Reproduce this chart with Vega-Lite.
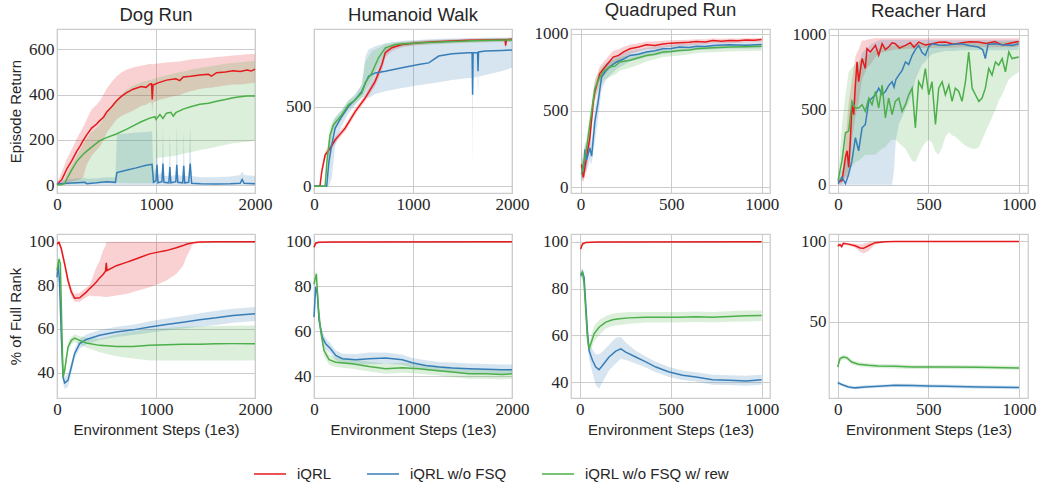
{
"$schema": "https://vega.github.io/schema/vega-lite/v6.json",
"padding": {"left": 7, "top": 0, "right": 0, "bottom": 0},
"config": {
  "font": "Liberation Sans",
  "view": {"stroke": "#cccccc", "strokeWidth": 1.25},
  "axis": {"domain": false, "ticks": false, "grid": true, "gridColor": "#cccccc", "gridWidth": 1, "labelFont": "Liberation Serif", "labelFontSize": 17, "labelColor": "#262626", "labelPadding": 3, "labelFlush": false, "labelOverlap": false, "format": "d", "titleFont": "Liberation Sans", "titleFontSize": 15, "titleFontWeight": "normal", "titleColor": "#262626", "titlePadding": 5},
  "title": {"font": "Liberation Sans", "fontSize": 18.5, "fontWeight": "normal", "color": "#262626", "offset": 5},
  "range": {"category": ["#e41a1c", "#377eb8", "#4daf4a"]},
  "legend": {"orient": "none", "legendX": 196, "legendY": 428, "direction": "horizontal", "symbolType": "stroke", "symbolSize": 1024, "symbolStrokeWidth": 1.5, "symbolOpacity": 1, "labelFont": "Liberation Sans", "labelFontSize": 15, "labelColor": "#262626", "columnPadding": 32, "labelOffset": 10, "title": null},
  "line": {"strokeWidth": 1.5}
},
"datasets": {
"dr_r": [
{"s":"a","x":0,"y":3,"l":0,"h":8},{"s":"a","x":50,"y":25,"l":5,"h":60},{"s":"a","x":100,"y":72,"l":10,"h":115},{"s":"a","x":150,"y":108,"l":15,"h":160},{"s":"a","x":200,"y":150,"l":20,"h":205},{"s":"a","x":230,"y":170,"l":25,"h":230},{"s":"a","x":263,"y":196,"l":35,"h":255},{"s":"a","x":300,"y":222,"l":90,"h":290},{"s":"a","x":350,"y":252,"l":130,"h":335},{"s":"a","x":400,"y":270,"l":155,"h":355},{"s":"a","x":432,"y":285,"l":170,"h":372},{"s":"a","x":470,"y":300,"l":200,"h":400},{"s":"a","x":500,"y":322,"l":230,"h":425},{"s":"a","x":550,"y":345,"l":260,"h":455},{"s":"a","x":600,"y":372,"l":290,"h":480},{"s":"a","x":650,"y":392,"l":305,"h":498},{"s":"a","x":700,"y":408,"l":315,"h":510},{"s":"a","x":769,"y":424,"l":330,"h":520},{"s":"a","x":850,"y":436,"l":350,"h":528},{"s":"a","x":900,"y":432,"l":355,"h":532},{"s":"a","x":937,"y":446,"l":365,"h":535},{"s":"a","x":955,"y":448,"l":365,"h":535},{"s":"a","x":962,"y":378,"l":320,"h":532},{"s":"a","x":970,"y":442,"l":365,"h":535},{"s":"a","x":1020,"y":452,"l":375,"h":538},{"s":"a","x":1106,"y":464,"l":385,"h":542},{"s":"a","x":1200,"y":470,"l":395,"h":545},{"s":"a","x":1240,"y":462,"l":398,"h":546},{"s":"a","x":1275,"y":478,"l":405,"h":550},{"s":"a","x":1350,"y":481,"l":415,"h":555},{"s":"a","x":1443,"y":487,"l":425,"h":558},{"s":"a","x":1530,"y":490,"l":430,"h":562},{"s":"a","x":1560,"y":482,"l":430,"h":563},{"s":"a","x":1612,"y":497,"l":435,"h":566},{"s":"a","x":1700,"y":500,"l":440,"h":570},{"s":"a","x":1780,"y":505,"l":445,"h":573},{"s":"a","x":1850,"y":502,"l":445,"h":575},{"s":"a","x":1920,"y":509,"l":448,"h":578},{"s":"a","x":1960,"y":504,"l":450,"h":579},{"s":"a","x":2000,"y":512,"l":452,"h":580},
{"s":"b","x":0,"y":5,"l":0,"h":20},{"s":"b","x":100,"y":8,"l":0,"h":25},{"s":"b","x":200,"y":10,"l":0,"h":30},{"s":"b","x":280,"y":12,"l":0,"h":32},{"s":"b","x":300,"y":6,"l":0,"h":28},{"s":"b","x":400,"y":10,"l":0,"h":30},{"s":"b","x":500,"y":15,"l":0,"h":35},{"s":"b","x":590,"y":12,"l":0,"h":35},{"s":"b","x":605,"y":55,"l":0,"h":225},{"s":"b","x":700,"y":66,"l":0,"h":228},{"s":"b","x":800,"y":76,"l":0,"h":232},{"s":"b","x":900,"y":88,"l":0,"h":235},{"s":"b","x":960,"y":92,"l":0,"h":238},{"s":"b","x":975,"y":12,"l":0,"h":40},{"s":"b","x":1000,"y":20,"l":0,"h":80},{"s":"b","x":1010,"y":90,"l":0,"h":250},{"s":"b","x":1020,"y":10,"l":0,"h":40},{"s":"b","x":1060,"y":15,"l":0,"h":60},{"s":"b","x":1070,"y":95,"l":0,"h":260},{"s":"b","x":1080,"y":12,"l":0,"h":40},{"s":"b","x":1130,"y":10,"l":0,"h":40},{"s":"b","x":1140,"y":80,"l":0,"h":230},{"s":"b","x":1150,"y":10,"l":0,"h":40},{"s":"b","x":1200,"y":15,"l":0,"h":45},{"s":"b","x":1210,"y":90,"l":0,"h":270},{"s":"b","x":1220,"y":12,"l":0,"h":45},{"s":"b","x":1270,"y":10,"l":0,"h":40},{"s":"b","x":1280,"y":85,"l":0,"h":240},{"s":"b","x":1290,"y":10,"l":0,"h":40},{"s":"b","x":1330,"y":12,"l":0,"h":40},{"s":"b","x":1345,"y":95,"l":0,"h":260},{"s":"b","x":1360,"y":8,"l":0,"h":40},{"s":"b","x":1450,"y":6,"l":0,"h":35},{"s":"b","x":1600,"y":5,"l":0,"h":35},{"s":"b","x":1750,"y":6,"l":0,"h":38},{"s":"b","x":1850,"y":8,"l":0,"h":45},{"s":"b","x":1870,"y":25,"l":0,"h":60},{"s":"b","x":1890,"y":8,"l":0,"h":45},{"s":"b","x":2000,"y":6,"l":0,"h":40},
{"s":"c","x":0,"y":0,"l":0,"h":2},{"s":"c","x":50,"y":2,"l":0,"h":8},{"s":"c","x":80,"y":8,"l":0,"h":25},{"s":"c","x":100,"y":28,"l":2,"h":50},{"s":"c","x":150,"y":68,"l":5,"h":90},{"s":"c","x":200,"y":105,"l":5,"h":130},{"s":"c","x":263,"y":135,"l":8,"h":180},{"s":"c","x":300,"y":150,"l":8,"h":205},{"s":"c","x":350,"y":168,"l":10,"h":235},{"s":"c","x":432,"y":196,"l":10,"h":265},{"s":"c","x":500,"y":210,"l":10,"h":320},{"s":"c","x":600,"y":226,"l":10,"h":380},{"s":"c","x":700,"y":246,"l":8,"h":420},{"s":"c","x":769,"y":262,"l":8,"h":440},{"s":"c","x":850,"y":280,"l":8,"h":455},{"s":"c","x":937,"y":296,"l":8,"h":465},{"s":"c","x":990,"y":302,"l":10,"h":470},{"s":"c","x":1000,"y":290,"l":120,"h":472},{"s":"c","x":1040,"y":312,"l":122,"h":478},{"s":"c","x":1070,"y":295,"l":123,"h":480},{"s":"c","x":1106,"y":318,"l":125,"h":485},{"s":"c","x":1150,"y":322,"l":128,"h":490},{"s":"c","x":1175,"y":305,"l":129,"h":492},{"s":"c","x":1200,"y":320,"l":130,"h":495},{"s":"c","x":1275,"y":336,"l":138,"h":502},{"s":"c","x":1350,"y":346,"l":145,"h":510},{"s":"c","x":1443,"y":357,"l":155,"h":518},{"s":"c","x":1530,"y":362,"l":162,"h":524},{"s":"c","x":1612,"y":371,"l":170,"h":530},{"s":"c","x":1700,"y":378,"l":178,"h":536},{"s":"c","x":1780,"y":386,"l":185,"h":540},{"s":"c","x":1850,"y":390,"l":188,"h":543},{"s":"c","x":1920,"y":394,"l":192,"h":546},{"s":"c","x":2000,"y":394,"l":195,"h":548}
],
"hw_r": [
{"s":"a","x":0,"y":0,"l":0,"h":2},{"s":"a","x":60,"y":0,"l":0,"h":5},{"s":"a","x":78,"y":91,"l":60,"h":120},{"s":"a","x":112,"y":196,"l":170,"h":220},{"s":"a","x":162,"y":238,"l":215,"h":262},{"s":"a","x":213,"y":291,"l":270,"h":312},{"s":"a","x":260,"y":325,"l":305,"h":345},{"s":"a","x":314,"y":365,"l":345,"h":385},{"s":"a","x":416,"y":470,"l":450,"h":490},{"s":"a","x":517,"y":555,"l":535,"h":575},{"s":"a","x":618,"y":660,"l":630,"h":690},{"s":"a","x":686,"y":766,"l":730,"h":800},{"s":"a","x":720,"y":840,"l":810,"h":865},{"s":"a","x":787,"y":871,"l":850,"h":890},{"s":"a","x":889,"y":892,"l":875,"h":905},{"s":"a","x":1057,"y":903,"l":890,"h":915},{"s":"a","x":1226,"y":909,"l":897,"h":920},{"s":"a","x":1395,"y":913,"l":902,"h":924},{"s":"a","x":1564,"y":918,"l":906,"h":928},{"s":"a","x":1733,"y":920,"l":908,"h":930},{"s":"a","x":1900,"y":922,"l":910,"h":932},{"s":"a","x":1930,"y":922,"l":910,"h":932},{"s":"a","x":1935,"y":885,"l":860,"h":932},{"s":"a","x":1945,"y":922,"l":910,"h":932},{"s":"a","x":2000,"y":924,"l":912,"h":934},
{"s":"b","x":0,"y":0,"l":0,"h":2},{"s":"b","x":128,"y":0,"l":0,"h":10},{"s":"b","x":150,"y":150,"l":0,"h":260},{"s":"b","x":179,"y":259,"l":50,"h":380},{"s":"b","x":213,"y":365,"l":250,"h":430},{"s":"b","x":280,"y":439,"l":380,"h":480},{"s":"b","x":348,"y":502,"l":460,"h":540},{"s":"b","x":416,"y":544,"l":510,"h":580},{"s":"b","x":483,"y":597,"l":560,"h":640},{"s":"b","x":520,"y":650,"l":560,"h":820},{"s":"b","x":551,"y":692,"l":555,"h":860},{"s":"b","x":618,"y":713,"l":580,"h":880},{"s":"b","x":720,"y":724,"l":597,"h":900},{"s":"b","x":889,"y":745,"l":618,"h":915},{"s":"b","x":1057,"y":766,"l":635,"h":920},{"s":"b","x":1159,"y":776,"l":645,"h":925},{"s":"b","x":1260,"y":819,"l":655,"h":928},{"s":"b","x":1395,"y":833,"l":668,"h":930},{"s":"b","x":1560,"y":840,"l":681,"h":932},{"s":"b","x":1597,"y":840,"l":681,"h":932},{"s":"b","x":1602,"y":576,"l":122,"h":933},{"s":"b","x":1607,"y":840,"l":681,"h":933},{"s":"b","x":1652,"y":840,"l":690,"h":933},{"s":"b","x":1657,"y":724,"l":560,"h":933},{"s":"b","x":1662,"y":845,"l":690,"h":933},{"s":"b","x":1733,"y":850,"l":700,"h":934},{"s":"b","x":1902,"y":854,"l":725,"h":935},{"s":"b","x":2000,"y":857,"l":745,"h":936},
{"s":"c","x":0,"y":0,"l":0,"h":2},{"s":"c","x":112,"y":0,"l":0,"h":5},{"s":"c","x":130,"y":150,"l":60,"h":220},{"s":"c","x":162,"y":323,"l":250,"h":370},{"s":"c","x":196,"y":386,"l":350,"h":420},{"s":"c","x":280,"y":449,"l":420,"h":480},{"s":"c","x":348,"y":513,"l":485,"h":540},{"s":"c","x":416,"y":544,"l":520,"h":570},{"s":"c","x":483,"y":586,"l":555,"h":640},{"s":"c","x":517,"y":650,"l":600,"h":780},{"s":"c","x":584,"y":713,"l":660,"h":850},{"s":"c","x":652,"y":808,"l":760,"h":870},{"s":"c","x":720,"y":871,"l":840,"h":895},{"s":"c","x":821,"y":892,"l":875,"h":905},{"s":"c","x":990,"y":899,"l":885,"h":912},{"s":"c","x":1200,"y":905,"l":892,"h":918},{"s":"c","x":1400,"y":910,"l":898,"h":922},{"s":"c","x":1600,"y":915,"l":903,"h":926},{"s":"c","x":1800,"y":918,"l":906,"h":929},{"s":"c","x":2000,"y":920,"l":908,"h":931}
],
"qr_r": [
{"s":"a","x":5,"y":150,"l":80,"h":290},{"s":"a","x":15,"y":65,"l":30,"h":120},{"s":"a","x":33,"y":194,"l":120,"h":260},{"s":"a","x":51,"y":323,"l":250,"h":400},{"s":"a","x":70,"y":559,"l":480,"h":620},{"s":"a","x":79,"y":624,"l":560,"h":690},{"s":"a","x":106,"y":742,"l":690,"h":790},{"s":"a","x":125,"y":770,"l":720,"h":815},{"s":"a","x":143,"y":796,"l":750,"h":840},{"s":"a","x":180,"y":849,"l":800,"h":890},{"s":"a","x":210,"y":860,"l":815,"h":900},{"s":"a","x":235,"y":882,"l":840,"h":915},{"s":"a","x":272,"y":903,"l":870,"h":930},{"s":"a","x":320,"y":915,"l":885,"h":940},{"s":"a","x":363,"y":929,"l":900,"h":950},{"s":"a","x":410,"y":925,"l":900,"h":950},{"s":"a","x":455,"y":935,"l":910,"h":955},{"s":"a","x":500,"y":940,"l":915,"h":958},{"s":"a","x":547,"y":942,"l":920,"h":960},{"s":"a","x":600,"y":945,"l":925,"h":962},{"s":"a","x":639,"y":950,"l":930,"h":965},{"s":"a","x":690,"y":948,"l":932,"h":966},{"s":"a","x":730,"y":957,"l":940,"h":970},{"s":"a","x":780,"y":952,"l":938,"h":968},{"s":"a","x":822,"y":957,"l":940,"h":970},{"s":"a","x":870,"y":955,"l":942,"h":970},{"s":"a","x":914,"y":961,"l":945,"h":972},{"s":"a","x":960,"y":958,"l":945,"h":972},{"s":"a","x":1000,"y":963,"l":948,"h":975},
{"s":"b","x":5,"y":86,"l":40,"h":150},{"s":"b","x":20,"y":150,"l":60,"h":260},{"s":"b","x":24,"y":247,"l":100,"h":300},{"s":"b","x":33,"y":180,"l":100,"h":260},{"s":"b","x":51,"y":258,"l":180,"h":330},{"s":"b","x":61,"y":204,"l":150,"h":300},{"s":"b","x":79,"y":430,"l":300,"h":520},{"s":"b","x":97,"y":559,"l":450,"h":640},{"s":"b","x":116,"y":720,"l":640,"h":770},{"s":"b","x":140,"y":760,"l":700,"h":810},{"s":"b","x":161,"y":785,"l":730,"h":830},{"s":"b","x":198,"y":817,"l":770,"h":860},{"s":"b","x":235,"y":835,"l":795,"h":875},{"s":"b","x":272,"y":860,"l":820,"h":890},{"s":"b","x":320,"y":868,"l":835,"h":900},{"s":"b","x":363,"y":882,"l":850,"h":910},{"s":"b","x":410,"y":890,"l":860,"h":918},{"s":"b","x":455,"y":903,"l":870,"h":925},{"s":"b","x":500,"y":905,"l":875,"h":930},{"s":"b","x":547,"y":914,"l":885,"h":935},{"s":"b","x":600,"y":912,"l":890,"h":938},{"s":"b","x":639,"y":920,"l":895,"h":940},{"s":"b","x":690,"y":918,"l":897,"h":942},{"s":"b","x":730,"y":925,"l":900,"h":945},{"s":"b","x":822,"y":929,"l":905,"h":948},{"s":"b","x":914,"y":926,"l":905,"h":949},{"s":"b","x":1000,"y":931,"l":905,"h":950},
{"s":"c","x":5,"y":86,"l":40,"h":150},{"s":"c","x":33,"y":258,"l":180,"h":320},{"s":"c","x":61,"y":495,"l":400,"h":560},{"s":"c","x":79,"y":645,"l":580,"h":700},{"s":"c","x":106,"y":720,"l":660,"h":770},{"s":"c","x":130,"y":760,"l":700,"h":800},{"s":"c","x":161,"y":785,"l":720,"h":820},{"s":"c","x":190,"y":790,"l":735,"h":835},{"s":"c","x":217,"y":817,"l":760,"h":850},{"s":"c","x":272,"y":828,"l":780,"h":860},{"s":"c","x":320,"y":845,"l":800,"h":875},{"s":"c","x":363,"y":860,"l":820,"h":885},{"s":"c","x":410,"y":868,"l":835,"h":892},{"s":"c","x":455,"y":882,"l":850,"h":900},{"s":"c","x":500,"y":885,"l":855,"h":905},{"s":"c","x":547,"y":892,"l":860,"h":910},{"s":"c","x":600,"y":895,"l":868,"h":915},{"s":"c","x":639,"y":903,"l":875,"h":920},{"s":"c","x":730,"y":910,"l":880,"h":925},{"s":"c","x":822,"y":914,"l":885,"h":930},{"s":"c","x":914,"y":916,"l":888,"h":932},{"s":"c","x":1000,"y":920,"l":890,"h":935}
],
"rh_r": [
{"s":"a","x":0,"y":18,"l":0,"h":40},{"s":"a","x":22,"y":28,"l":0,"h":60},{"s":"a","x":41,"y":182,"l":50,"h":300},{"s":"a","x":50,"y":226,"l":50,"h":420},{"s":"a","x":59,"y":116,"l":50,"h":550},{"s":"a","x":68,"y":292,"l":150,"h":620},{"s":"a","x":77,"y":533,"l":300,"h":700},{"s":"a","x":87,"y":467,"l":380,"h":780},{"s":"a","x":96,"y":664,"l":450,"h":850},{"s":"a","x":105,"y":818,"l":500,"h":880},{"s":"a","x":114,"y":686,"l":550,"h":900},{"s":"a","x":133,"y":840,"l":700,"h":960},{"s":"a","x":151,"y":774,"l":750,"h":960},{"s":"a","x":160,"y":906,"l":780,"h":965},{"s":"a","x":179,"y":884,"l":800,"h":970},{"s":"a","x":207,"y":928,"l":850,"h":975},{"s":"a","x":225,"y":862,"l":870,"h":975},{"s":"a","x":244,"y":939,"l":880,"h":975},{"s":"a","x":262,"y":900,"l":885,"h":975},{"s":"a","x":280,"y":917,"l":890,"h":975},{"s":"a","x":299,"y":945,"l":895,"h":975},{"s":"a","x":317,"y":939,"l":900,"h":975},{"s":"a","x":340,"y":910,"l":900,"h":975},{"s":"a","x":373,"y":928,"l":905,"h":975},{"s":"a","x":400,"y":945,"l":905,"h":975},{"s":"a","x":420,"y":915,"l":905,"h":975},{"s":"a","x":446,"y":950,"l":910,"h":975},{"s":"a","x":483,"y":930,"l":910,"h":975},{"s":"a","x":520,"y":939,"l":910,"h":975},{"s":"a","x":557,"y":948,"l":912,"h":975},{"s":"a","x":594,"y":950,"l":912,"h":975},{"s":"a","x":640,"y":935,"l":912,"h":975},{"s":"a","x":686,"y":945,"l":915,"h":975},{"s":"a","x":730,"y":952,"l":915,"h":975},{"s":"a","x":775,"y":950,"l":915,"h":975},{"s":"a","x":820,"y":940,"l":915,"h":975},{"s":"a","x":867,"y":954,"l":915,"h":975},{"s":"a","x":910,"y":930,"l":915,"h":975},{"s":"a","x":963,"y":945,"l":915,"h":975},{"s":"a","x":1000,"y":954,"l":920,"h":975},
{"s":"b","x":0,"y":7,"l":0,"h":50},{"s":"b","x":22,"y":50,"l":0,"h":100},{"s":"b","x":41,"y":7,"l":0,"h":150},{"s":"b","x":59,"y":72,"l":0,"h":250},{"s":"b","x":77,"y":160,"l":0,"h":500},{"s":"b","x":96,"y":314,"l":0,"h":700},{"s":"b","x":114,"y":226,"l":0,"h":800},{"s":"b","x":133,"y":379,"l":0,"h":880},{"s":"b","x":151,"y":401,"l":0,"h":900},{"s":"b","x":170,"y":555,"l":0,"h":920},{"s":"b","x":188,"y":577,"l":0,"h":940},{"s":"b","x":207,"y":599,"l":0,"h":950},{"s":"b","x":225,"y":643,"l":0,"h":960},{"s":"b","x":244,"y":600,"l":0,"h":965},{"s":"b","x":262,"y":621,"l":0,"h":965},{"s":"b","x":280,"y":660,"l":0,"h":965},{"s":"b","x":299,"y":686,"l":0,"h":965},{"s":"b","x":310,"y":650,"l":100,"h":965},{"s":"b","x":320,"y":700,"l":300,"h":965},{"s":"b","x":336,"y":730,"l":400,"h":965},{"s":"b","x":354,"y":760,"l":450,"h":965},{"s":"b","x":373,"y":818,"l":500,"h":965},{"s":"b","x":391,"y":800,"l":550,"h":965},{"s":"b","x":410,"y":862,"l":600,"h":965},{"s":"b","x":428,"y":900,"l":700,"h":965},{"s":"b","x":446,"y":928,"l":750,"h":965},{"s":"b","x":465,"y":880,"l":800,"h":965},{"s":"b","x":483,"y":862,"l":820,"h":965},{"s":"b","x":502,"y":920,"l":850,"h":965},{"s":"b","x":520,"y":939,"l":870,"h":965},{"s":"b","x":557,"y":930,"l":880,"h":965},{"s":"b","x":594,"y":928,"l":890,"h":965},{"s":"b","x":640,"y":935,"l":890,"h":965},{"s":"b","x":686,"y":939,"l":895,"h":965},{"s":"b","x":730,"y":925,"l":895,"h":965},{"s":"b","x":775,"y":917,"l":895,"h":965},{"s":"b","x":800,"y":900,"l":895,"h":965},{"s":"b","x":815,"y":840,"l":850,"h":965},{"s":"b","x":830,"y":935,"l":895,"h":965},{"s":"b","x":867,"y":939,"l":895,"h":965},{"s":"b","x":910,"y":932,"l":895,"h":965},{"s":"b","x":963,"y":928,"l":895,"h":965},{"s":"b","x":1000,"y":939,"l":900,"h":965},
{"s":"c","x":0,"y":28,"l":0,"h":50},{"s":"c","x":22,"y":160,"l":20,"h":400},{"s":"c","x":41,"y":346,"l":50,"h":600},{"s":"c","x":59,"y":357,"l":100,"h":750},{"s":"c","x":77,"y":555,"l":120,"h":780},{"s":"c","x":96,"y":511,"l":150,"h":800},{"s":"c","x":114,"y":511,"l":160,"h":820},{"s":"c","x":133,"y":533,"l":180,"h":840},{"s":"c","x":151,"y":489,"l":200,"h":850},{"s":"c","x":170,"y":577,"l":200,"h":870},{"s":"c","x":188,"y":533,"l":200,"h":880},{"s":"c","x":207,"y":621,"l":200,"h":900},{"s":"c","x":225,"y":511,"l":220,"h":910},{"s":"c","x":244,"y":664,"l":240,"h":915},{"s":"c","x":262,"y":445,"l":250,"h":920},{"s":"c","x":280,"y":577,"l":280,"h":920},{"s":"c","x":299,"y":467,"l":300,"h":925},{"s":"c","x":317,"y":555,"l":300,"h":925},{"s":"c","x":336,"y":577,"l":280,"h":930},{"s":"c","x":354,"y":489,"l":260,"h":930},{"s":"c","x":373,"y":533,"l":240,"h":930},{"s":"c","x":391,"y":599,"l":200,"h":930},{"s":"c","x":410,"y":643,"l":160,"h":935},{"s":"c","x":428,"y":379,"l":150,"h":935},{"s":"c","x":446,"y":686,"l":200,"h":935},{"s":"c","x":465,"y":643,"l":250,"h":935},{"s":"c","x":483,"y":774,"l":280,"h":940},{"s":"c","x":502,"y":599,"l":300,"h":940},{"s":"c","x":520,"y":686,"l":280,"h":940},{"s":"c","x":539,"y":401,"l":220,"h":940},{"s":"c","x":557,"y":643,"l":200,"h":940},{"s":"c","x":576,"y":686,"l":250,"h":940},{"s":"c","x":594,"y":599,"l":320,"h":940},{"s":"c","x":613,"y":664,"l":350,"h":940},{"s":"c","x":631,"y":555,"l":330,"h":945},{"s":"c","x":649,"y":643,"l":320,"h":945},{"s":"c","x":668,"y":621,"l":300,"h":945},{"s":"c","x":686,"y":555,"l":280,"h":945},{"s":"c","x":705,"y":686,"l":260,"h":945},{"s":"c","x":723,"y":884,"l":250,"h":950},{"s":"c","x":742,"y":643,"l":240,"h":950},{"s":"c","x":760,"y":599,"l":240,"h":950},{"s":"c","x":779,"y":555,"l":250,"h":950},{"s":"c","x":797,"y":577,"l":300,"h":950},{"s":"c","x":815,"y":643,"l":350,"h":950},{"s":"c","x":834,"y":774,"l":400,"h":950},{"s":"c","x":852,"y":730,"l":450,"h":950},{"s":"c","x":871,"y":818,"l":500,"h":955},{"s":"c","x":889,"y":796,"l":560,"h":955},{"s":"c","x":908,"y":840,"l":600,"h":955},{"s":"c","x":926,"y":752,"l":650,"h":955},{"s":"c","x":945,"y":884,"l":700,"h":955},{"s":"c","x":963,"y":840,"l":720,"h":955},{"s":"c","x":1000,"y":851,"l":750,"h":955}
],
"dr_k": [
{"s":"a","x":0,"y":99,"l":98,"h":100},{"s":"a","x":20,"y":99.7,"l":99,"h":100},{"s":"a","x":44,"y":96.6,"l":95,"h":98.5},{"s":"a","x":77,"y":89.8,"l":88,"h":92},{"s":"a","x":111,"y":82.2,"l":80,"h":84.5},{"s":"a","x":145,"y":76.9,"l":75,"h":79},{"s":"a","x":178,"y":74.1,"l":72.5,"h":76},{"s":"a","x":229,"y":74.3,"l":72.5,"h":76.5},{"s":"a","x":296,"y":76.9,"l":74.5,"h":79},{"s":"a","x":330,"y":78.5,"l":75.3,"h":80},{"s":"a","x":364,"y":79.9,"l":75,"h":84},{"s":"a","x":397,"y":81.5,"l":75,"h":88.3},{"s":"a","x":431,"y":83.4,"l":75,"h":91.3},{"s":"a","x":465,"y":85,"l":74.8,"h":95.9},{"s":"a","x":490,"y":86.5,"l":74.6,"h":98},{"s":"a","x":498,"y":90.3,"l":74.6,"h":99.7},{"s":"a","x":505,"y":86.8,"l":74.6,"h":99.8},{"s":"a","x":600,"y":89,"l":75.3,"h":100},{"s":"a","x":700,"y":90.5,"l":76,"h":100},{"s":"a","x":768,"y":91.6,"l":76.9,"h":100},{"s":"a","x":850,"y":93,"l":78,"h":100},{"s":"a","x":936,"y":94.4,"l":79.1,"h":100},{"s":"a","x":1020,"y":95.2,"l":80.5,"h":100},{"s":"a","x":1104,"y":95.9,"l":82.2,"h":100},{"s":"a","x":1205,"y":97.2,"l":85.2,"h":100},{"s":"a","x":1273,"y":98.2,"l":89,"h":100},{"s":"a","x":1306,"y":98.8,"l":92.8,"h":100},{"s":"a","x":1374,"y":99.5,"l":98.9,"h":100},{"s":"a","x":1441,"y":99.8,"l":99.5,"h":100},{"s":"a","x":1600,"y":100,"l":99.9,"h":100},{"s":"a","x":2000,"y":100,"l":100,"h":100},
{"s":"b","x":0,"y":83.7,"l":81,"h":86},{"s":"b","x":13,"y":89.8,"l":87,"h":92},{"s":"b","x":27,"y":80,"l":77,"h":83},{"s":"b","x":44,"y":56,"l":53,"h":59},{"s":"b","x":61,"y":38,"l":35,"h":41},{"s":"b","x":77,"y":35.3,"l":32.5,"h":38},{"s":"b","x":111,"y":36.5,"l":33.5,"h":39.5},{"s":"b","x":145,"y":42.6,"l":40,"h":45},{"s":"b","x":178,"y":48.7,"l":46.5,"h":51},{"s":"b","x":229,"y":53.3,"l":51,"h":55.5},{"s":"b","x":296,"y":55.2,"l":53,"h":57.5},{"s":"b","x":431,"y":57.1,"l":55,"h":59.5},{"s":"b","x":600,"y":58.6,"l":56.3,"h":61},{"s":"b","x":768,"y":59.6,"l":57.2,"h":62},{"s":"b","x":936,"y":60.9,"l":58.3,"h":63.5},{"s":"b","x":1104,"y":62.1,"l":59.3,"h":64.8},{"s":"b","x":1273,"y":63.1,"l":60.2,"h":66},{"s":"b","x":1441,"y":64.2,"l":61,"h":67.2},{"s":"b","x":1609,"y":65.1,"l":61.8,"h":68.3},{"s":"b","x":1778,"y":66.2,"l":62.9,"h":69.3},{"s":"b","x":2000,"y":67,"l":63.7,"h":70.1},
{"s":"c","x":0,"y":86.8,"l":84,"h":89},{"s":"c","x":20,"y":92,"l":90,"h":93.5},{"s":"c","x":34,"y":89.8,"l":87,"h":92},{"s":"c","x":47,"y":63.9,"l":60,"h":67},{"s":"c","x":61,"y":38,"l":36,"h":40},{"s":"c","x":77,"y":41,"l":38.5,"h":43.5},{"s":"c","x":111,"y":51.7,"l":49.5,"h":54},{"s":"c","x":145,"y":54.8,"l":53,"h":56.5},{"s":"c","x":178,"y":55.8,"l":54,"h":57.5},{"s":"c","x":229,"y":54.8,"l":53,"h":56.8},{"s":"c","x":296,"y":53.6,"l":51.5,"h":56},{"s":"c","x":431,"y":52.5,"l":49.4,"h":55.5},{"s":"c","x":600,"y":52,"l":47.5,"h":57.5},{"s":"c","x":768,"y":52,"l":46.5,"h":59},{"s":"c","x":936,"y":52.5,"l":45.6,"h":60},{"s":"c","x":1104,"y":52.8,"l":45.6,"h":60.5},{"s":"c","x":1273,"y":53,"l":45.6,"h":61},{"s":"c","x":1441,"y":53,"l":45.6,"h":61.2},{"s":"c","x":1609,"y":53.2,"l":45.6,"h":61.4},{"s":"c","x":1778,"y":53.3,"l":45.6,"h":61.5},{"s":"c","x":2000,"y":53.3,"l":45.6,"h":61.6}
],
"hw_k": [
{"s":"a","x":0,"y":97.5,"l":96.5,"h":98.5},{"s":"a","x":17,"y":99.3,"l":98.8,"h":99.8},{"s":"a","x":50,"y":99.7,"l":99.4,"h":100},{"s":"a","x":200,"y":99.8,"l":99.6,"h":100},{"s":"a","x":2000,"y":99.9,"l":99.8,"h":100},
{"s":"b","x":0,"y":66.3,"l":64,"h":68.5},{"s":"b","x":17,"y":79.7,"l":77.5,"h":82},{"s":"b","x":34,"y":76.7,"l":74.5,"h":79},{"s":"b","x":51,"y":64.8,"l":62.5,"h":67},{"s":"b","x":84,"y":57.4,"l":55,"h":60},{"s":"b","x":118,"y":54.4,"l":52,"h":57},{"s":"b","x":168,"y":52.2,"l":50,"h":54.5},{"s":"b","x":219,"y":49.2,"l":47,"h":51.5},{"s":"b","x":286,"y":47.7,"l":45.5,"h":50},{"s":"b","x":421,"y":47.3,"l":45,"h":49.8},{"s":"b","x":556,"y":47.7,"l":45.3,"h":50.5},{"s":"b","x":724,"y":48,"l":45.5,"h":50.5},{"s":"b","x":892,"y":47.3,"l":45,"h":49.5},{"s":"b","x":993,"y":45.9,"l":43.8,"h":48},{"s":"b","x":1128,"y":44.7,"l":42.7,"h":47},{"s":"b","x":1263,"y":44,"l":42,"h":46.3},{"s":"b","x":1397,"y":43.6,"l":41.6,"h":46},{"s":"b","x":1566,"y":43.3,"l":41.3,"h":45.6},{"s":"b","x":1734,"y":43,"l":41,"h":45.4},{"s":"b","x":1902,"y":42.8,"l":40.8,"h":45.2},{"s":"b","x":2000,"y":42.8,"l":40.8,"h":45.2},
{"s":"c","x":0,"y":81.1,"l":79,"h":83},{"s":"c","x":24,"y":85.6,"l":83.5,"h":87.5},{"s":"c","x":44,"y":70.7,"l":68.5,"h":73},{"s":"c","x":67,"y":60.3,"l":58,"h":62.5},{"s":"c","x":101,"y":51.4,"l":49,"h":54},{"s":"c","x":152,"y":47.3,"l":45,"h":49.5},{"s":"c","x":219,"y":46.2,"l":44,"h":48.5},{"s":"c","x":387,"y":45.5,"l":43.3,"h":47.7},{"s":"c","x":556,"y":44.3,"l":42,"h":46.5},{"s":"c","x":724,"y":43.3,"l":41,"h":45.5},{"s":"c","x":892,"y":43.7,"l":41.5,"h":46},{"s":"c","x":1061,"y":43.3,"l":41,"h":45.5},{"s":"c","x":1229,"y":42.5,"l":40.3,"h":44.7},{"s":"c","x":1397,"y":41.8,"l":39.6,"h":44},{"s":"c","x":1566,"y":41,"l":38.8,"h":43.2},{"s":"c","x":1734,"y":41,"l":38.8,"h":43.2},{"s":"c","x":1902,"y":40.7,"l":38.5,"h":43},{"s":"c","x":2000,"y":41,"l":38.8,"h":43.2}
],
"qr_k": [
{"s":"a","x":5,"y":96.9,"l":95.5,"h":98.3},{"s":"a","x":15,"y":99,"l":98.3,"h":99.7},{"s":"a","x":33,"y":99.7,"l":99.3,"h":100},{"s":"a","x":100,"y":99.9,"l":99.7,"h":100},{"s":"a","x":1000,"y":100,"l":99.9,"h":100},
{"s":"b","x":5,"y":85.5,"l":84,"h":87},{"s":"b","x":15,"y":87,"l":85.5,"h":88.5},{"s":"b","x":24,"y":84.8,"l":83,"h":86.5},{"s":"b","x":33,"y":73.5,"l":71,"h":76},{"s":"b","x":42,"y":62.1,"l":59,"h":65},{"s":"b","x":51,"y":53.6,"l":50,"h":57},{"s":"b","x":70,"y":49.4,"l":44,"h":54},{"s":"b","x":88,"y":46.5,"l":39,"h":52},{"s":"b","x":106,"y":45.4,"l":37.3,"h":52},{"s":"b","x":125,"y":47.2,"l":40,"h":53},{"s":"b","x":161,"y":50.8,"l":45,"h":56},{"s":"b","x":198,"y":53.3,"l":48,"h":59},{"s":"b","x":226,"y":54.3,"l":50,"h":59.3},{"s":"b","x":253,"y":52.9,"l":49.5,"h":57},{"s":"b","x":308,"y":50.8,"l":48,"h":53.5},{"s":"b","x":363,"y":48.7,"l":46.3,"h":51},{"s":"b","x":418,"y":46.5,"l":44.3,"h":48.8},{"s":"b","x":492,"y":44.4,"l":42.3,"h":46.5},{"s":"b","x":565,"y":43,"l":41,"h":45},{"s":"b","x":639,"y":42.3,"l":40.3,"h":44.3},{"s":"b","x":730,"y":41.1,"l":39,"h":43.2},{"s":"b","x":822,"y":40.9,"l":38.8,"h":43},{"s":"b","x":914,"y":40.6,"l":38.5,"h":42.8},{"s":"b","x":1000,"y":41.1,"l":39,"h":43.2},
{"s":"c","x":5,"y":86.2,"l":84.5,"h":88},{"s":"c","x":15,"y":87,"l":85.5,"h":88.5},{"s":"c","x":24,"y":82,"l":80,"h":84},{"s":"c","x":33,"y":70.6,"l":68,"h":73},{"s":"c","x":42,"y":59.3,"l":56.5,"h":62},{"s":"c","x":51,"y":54.3,"l":52,"h":57},{"s":"c","x":61,"y":56.5,"l":53.5,"h":59.5},{"s":"c","x":79,"y":60.7,"l":57.5,"h":64},{"s":"c","x":106,"y":63.5,"l":60,"h":66.5},{"s":"c","x":143,"y":65.7,"l":63,"h":68.3},{"s":"c","x":180,"y":66.7,"l":64,"h":69.3},{"s":"c","x":217,"y":67.1,"l":64.5,"h":69.7},{"s":"c","x":272,"y":67.5,"l":65,"h":70},{"s":"c","x":363,"y":67.8,"l":65.5,"h":70},{"s":"c","x":455,"y":67.8,"l":65.5,"h":70},{"s":"c","x":547,"y":67.8,"l":65.5,"h":70},{"s":"c","x":639,"y":68,"l":65.7,"h":70.2},{"s":"c","x":730,"y":67.8,"l":65.5,"h":70},{"s":"c","x":822,"y":68.1,"l":65.8,"h":70.3},{"s":"c","x":914,"y":68.4,"l":66,"h":70.6},{"s":"c","x":1000,"y":68.5,"l":66.2,"h":70.7}
],
"rh_k": [
{"s":"a","x":0,"y":97.3,"l":96.5,"h":98.5},{"s":"a","x":13,"y":97.9,"l":97,"h":99},{"s":"a","x":22,"y":96.7,"l":96,"h":98},{"s":"a","x":31,"y":98.8,"l":98,"h":99.5},{"s":"a","x":59,"y":98.3,"l":97.5,"h":99},{"s":"a","x":96,"y":97.3,"l":96,"h":98.5},{"s":"a","x":124,"y":95.9,"l":93.5,"h":98},{"s":"a","x":142,"y":95.7,"l":92.5,"h":98.5},{"s":"a","x":170,"y":97.3,"l":94,"h":99.5},{"s":"a","x":207,"y":99.2,"l":98,"h":100},{"s":"a","x":262,"y":99.8,"l":99.5,"h":100},{"s":"a","x":317,"y":100,"l":99.9,"h":100},{"s":"a","x":1000,"y":100,"l":100,"h":100},
{"s":"b","x":0,"y":12.2,"l":11,"h":13.4},{"s":"b","x":22,"y":11,"l":10,"h":12},{"s":"b","x":59,"y":9.5,"l":8.6,"h":10.5},{"s":"b","x":96,"y":8.9,"l":8,"h":9.9},{"s":"b","x":151,"y":9.5,"l":8.5,"h":10.5},{"s":"b","x":225,"y":9.9,"l":8.9,"h":10.9},{"s":"b","x":317,"y":10.5,"l":9.5,"h":11.5},{"s":"b","x":410,"y":10.3,"l":9.2,"h":11.4},{"s":"b","x":502,"y":10.1,"l":9,"h":11.2},{"s":"b","x":594,"y":9.9,"l":8.8,"h":11},{"s":"b","x":779,"y":9.5,"l":8.4,"h":10.6},{"s":"b","x":1000,"y":9.1,"l":8,"h":10.2},
{"s":"c","x":0,"y":21.9,"l":20.5,"h":23.5},{"s":"c","x":13,"y":27.1,"l":25.5,"h":28.5},{"s":"c","x":31,"y":28.1,"l":26.5,"h":29.5},{"s":"c","x":50,"y":27.7,"l":26.3,"h":29},{"s":"c","x":77,"y":25,"l":23.6,"h":26.4},{"s":"c","x":114,"y":23.6,"l":22.3,"h":25},{"s":"c","x":170,"y":22.9,"l":21.6,"h":24.2},{"s":"c","x":225,"y":22.5,"l":21.2,"h":23.8},{"s":"c","x":317,"y":22.3,"l":21,"h":23.6},{"s":"c","x":410,"y":21.9,"l":20.7,"h":23.2},{"s":"c","x":502,"y":21.9,"l":20.7,"h":23.2},{"s":"c","x":594,"y":21.9,"l":20.7,"h":23.2},{"s":"c","x":779,"y":21.7,"l":20.5,"h":23},{"s":"c","x":1000,"y":21.3,"l":20.1,"h":22.6}
]
},
"columns": 4,
"spacing": {"row": 41, "column": 59},
"bounds": "flush",
"concat": [
{"width":198,"height":164,"title":"Dog Run","data":{"name":"dr_r"},
 "encoding":{"x":{"field":"x","type":"quantitative","title":null,"scale":{"domain":[0,2000],"nice":false,"zero":false},"axis":{"values":[0,1000,2000]}},
   "color":{"field":"s","type":"nominal","scale":{"domain":["a","b","c"]},"legend":{"labelExpr":"datum.label == 'a' ? 'iQRL' : datum.label == 'b' ? 'iQRL w/o FSQ' : 'iQRL w/o FSQ w/ rew'"}}},
 "layer":[
  {"mark":{"type":"area","opacity":0.2},"encoding":{"y":{"field":"l","type":"quantitative","stack":null,"title":"Episode Return","scale":{"domain":[-35,690],"nice":false,"zero":false},"axis":{"values":[0,200,400,600]}},"y2":{"field":"h"}}},
  {"mark":{"type":"line"},"encoding":{"y":{"field":"y","type":"quantitative","title":"Episode Return","axis":{"values":[0,200,400,600]}}}}
 ]},
{"width":198,"height":164,"title":"Humanoid Walk","data":{"name":"hw_r"},
 "encoding":{"x":{"field":"x","type":"quantitative","title":null,"scale":{"domain":[0,2000],"nice":false,"zero":false},"axis":{"values":[0,1000,2000]}},
   "color":{"field":"s","type":"nominal","scale":{"domain":["a","b","c"]},"legend":{"labelExpr":"datum.label == 'a' ? 'iQRL' : datum.label == 'b' ? 'iQRL w/o FSQ' : 'iQRL w/o FSQ w/ rew'"}}},
 "layer":[
  {"mark":{"type":"area","opacity":0.2},"encoding":{"y":{"field":"l","type":"quantitative","stack":null,"title":null,"scale":{"domain":[-42,989],"nice":false,"zero":false},"axis":{"values":[0,500]}},"y2":{"field":"h"}}},
  {"mark":{"type":"line"},"encoding":{"y":{"field":"y","type":"quantitative","title":null,"axis":{"values":[0,500]}}}}
 ]},
{"width":199,"height":164,"title":"Quadruped Run","data":{"name":"qr_r"},
 "encoding":{"x":{"field":"x","type":"quantitative","title":null,"scale":{"domain":[-53,1046],"nice":false,"zero":false},"axis":{"values":[0,500,1000]}},
   "color":{"field":"s","type":"nominal","scale":{"domain":["a","b","c"]},"legend":{"labelExpr":"datum.label == 'a' ? 'iQRL' : datum.label == 'b' ? 'iQRL w/o FSQ' : 'iQRL w/o FSQ w/ rew'"}}},
 "layer":[
  {"mark":{"type":"area","opacity":0.2},"encoding":{"y":{"field":"l","type":"quantitative","stack":null,"title":null,"scale":{"domain":[-36,1032],"nice":false,"zero":false},"axis":{"values":[0,500,1000]}},"y2":{"field":"h"}}},
  {"mark":{"type":"line"},"encoding":{"y":{"field":"y","type":"quantitative","title":null,"axis":{"values":[0,500,1000]}}}}
 ]},
{"width":199,"height":164,"title":"Reacher Hard","data":{"name":"rh_r"},
 "encoding":{"x":{"field":"x","type":"quantitative","title":null,"scale":{"domain":[-50,1051],"nice":false,"zero":false},"axis":{"values":[0,500,1000]}},
   "color":{"field":"s","type":"nominal","scale":{"domain":["a","b","c"]},"legend":{"labelExpr":"datum.label == 'a' ? 'iQRL' : datum.label == 'b' ? 'iQRL w/o FSQ' : 'iQRL w/o FSQ w/ rew'"}}},
 "layer":[
  {"mark":{"type":"area","opacity":0.2},"encoding":{"y":{"field":"l","type":"quantitative","stack":null,"title":null,"scale":{"domain":[-55,1037],"nice":false,"zero":false},"axis":{"values":[0,500,1000]}},"y2":{"field":"h"}}},
  {"mark":{"type":"line"},"encoding":{"y":{"field":"y","type":"quantitative","title":null,"axis":{"values":[0,500,1000]}}}}
 ]},
{"width":198,"height":164,"data":{"name":"dr_k"},
 "encoding":{"x":{"field":"x","type":"quantitative","title":"Environment Steps (1e3)","scale":{"domain":[0,2000],"nice":false,"zero":false},"axis":{"values":[0,1000,2000]}},
   "color":{"field":"s","type":"nominal","scale":{"domain":["a","b","c"]},"legend":{"labelExpr":"datum.label == 'a' ? 'iQRL' : datum.label == 'b' ? 'iQRL w/o FSQ' : 'iQRL w/o FSQ w/ rew'"}}},
 "layer":[
  {"mark":{"type":"area","opacity":0.2},"encoding":{"y":{"field":"l","type":"quantitative","stack":null,"title":"% of Full Rank","scale":{"domain":[28.4,103.5],"nice":false,"zero":false},"axis":{"values":[40,60,80,100]}},"y2":{"field":"h"}}},
  {"mark":{"type":"line"},"encoding":{"y":{"field":"y","type":"quantitative","title":"% of Full Rank","axis":{"values":[40,60,80,100]}}}}
 ]},
{"width":198,"height":164,"data":{"name":"hw_k"},
 "encoding":{"x":{"field":"x","type":"quantitative","title":"Environment Steps (1e3)","scale":{"domain":[0,2000],"nice":false,"zero":false},"axis":{"values":[0,1000,2000]}},
   "color":{"field":"s","type":"nominal","scale":{"domain":["a","b","c"]},"legend":{"labelExpr":"datum.label == 'a' ? 'iQRL' : datum.label == 'b' ? 'iQRL w/o FSQ' : 'iQRL w/o FSQ w/ rew'"}}},
 "layer":[
  {"mark":{"type":"area","opacity":0.2},"encoding":{"y":{"field":"l","type":"quantitative","stack":null,"title":null,"scale":{"domain":[30.2,103.4],"nice":false,"zero":false},"axis":{"values":[40,60,80,100]}},"y2":{"field":"h"}}},
  {"mark":{"type":"line"},"encoding":{"y":{"field":"y","type":"quantitative","title":null,"axis":{"values":[40,60,80,100]}}}}
 ]},
{"width":199,"height":164,"data":{"name":"qr_k"},
 "encoding":{"x":{"field":"x","type":"quantitative","title":"Environment Steps (1e3)","scale":{"domain":[-48,1046],"nice":false,"zero":false},"axis":{"values":[0,500,1000]}},
   "color":{"field":"s","type":"nominal","scale":{"domain":["a","b","c"]},"legend":{"labelExpr":"datum.label == 'a' ? 'iQRL' : datum.label == 'b' ? 'iQRL w/o FSQ' : 'iQRL w/o FSQ w/ rew'"}}},
 "layer":[
  {"mark":{"type":"area","opacity":0.2},"encoding":{"y":{"field":"l","type":"quantitative","stack":null,"title":null,"scale":{"domain":[33.3,103.3],"nice":false,"zero":false},"axis":{"values":[40,60,80,100]}},"y2":{"field":"h"}}},
  {"mark":{"type":"line"},"encoding":{"y":{"field":"y","type":"quantitative","title":null,"axis":{"values":[40,60,80,100]}}}}
 ]},
{"width":199,"height":164,"data":{"name":"rh_k"},
 "encoding":{"x":{"field":"x","type":"quantitative","title":"Environment Steps (1e3)","scale":{"domain":[-48,1050],"nice":false,"zero":false},"axis":{"values":[0,500,1000]}},
   "color":{"field":"s","type":"nominal","scale":{"domain":["a","b","c"]},"legend":{"labelExpr":"datum.label == 'a' ? 'iQRL' : datum.label == 'b' ? 'iQRL w/o FSQ' : 'iQRL w/o FSQ w/ rew'"}}},
 "layer":[
  {"mark":{"type":"area","opacity":0.2},"encoding":{"y":{"field":"l","type":"quantitative","stack":null,"title":null,"scale":{"domain":[2.6,104.6],"nice":false,"zero":false},"axis":{"values":[50,100]}},"y2":{"field":"h"}}},
  {"mark":{"type":"line"},"encoding":{"y":{"field":"y","type":"quantitative","title":null,"axis":{"values":[50,100]}}}}
 ]}
]
}
